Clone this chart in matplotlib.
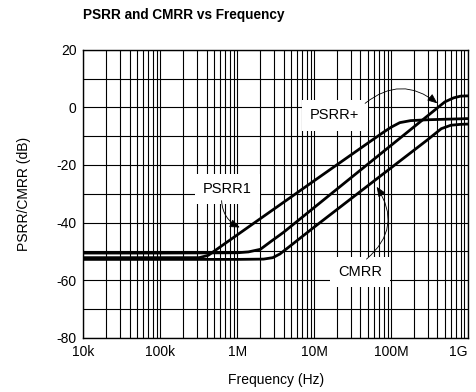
import matplotlib
matplotlib.use("Agg")
import matplotlib.pyplot as plt
from matplotlib.ticker import LogLocator, MultipleLocator, FixedLocator
import numpy as np

plt.rcParams['font.family'] = ['Liberation Sans', 'DejaVu Sans']
plt.rcParams['axes.unicode_minus'] = False

# PSRR1 curve (Hz, dB)
f_psrr1 = [1e4, 1e5, 3.2e5, 4.2e5, 1e6, 1e7, 5e7, 8e7, 1e8, 1.3e8, 1.8e8, 3e8, 1e9]
psrr1 = [-52.2, -52.2, -52.2, -51.4, -44.3, -25.5, -12.4, -8.6, -6.9, -5.3, -4.6, -4.3, -3.9]

# PSRR+ curve
f_psrrp = [1e4, 1e5, 1e6, 1.4e6, 2e6, 2.8e6, 4e6, 1e7, 1e8, 3e8, 5e8, 6.5e8, 8e8, 1e9]
psrrp = [-50.6, -50.6, -50.5, -50.2, -49.3, -46.4, -43.4, -34.8, -13.2, -2.9, 1.9, 3.3, 3.9, 4.0]

# CMRR curve
f_cmrr = [1e4, 1e5, 1e6, 2.2e6, 2.9e6, 3.6e6, 4.8e6, 1e7, 1e8, 3e8, 4.5e8, 6e8, 8e8, 1e9]
cmrr = [-52.8, -52.8, -52.8, -52.7, -52.2, -50.9, -48.3, -41.6, -21.0, -11.2, -7.4, -6.2, -5.9, -5.8]

x_ticks = [1e4, 1e5, 1e6, 1e7, 1e8, 1e9]
x_labels = ['10k', '100k', '1M', '10M', '100M', '1G']
y_ticks = [-80, -60, -40, -20, 0, 20]

fig = plt.figure(figsize=(4.77, 3.92), dpi=100)
ax = fig.add_axes([0.1747, 0.1385, 0.8064, 0.7345])

ax.set_xscale('log')
ax.set_xlim(1e4, 1e9)
ax.set_ylim(-80, 20)

ax.xaxis.set_major_locator(FixedLocator(x_ticks))
ax.set_xticklabels(x_labels)
ax.xaxis.set_minor_locator(LogLocator(base=10, subs=np.arange(2, 10)))
ax.xaxis.set_minor_formatter(plt.NullFormatter())
ax.yaxis.set_major_locator(FixedLocator(y_ticks))
ax.yaxis.set_minor_locator(MultipleLocator(10))

ax.grid(True, which='both', color='black', linewidth=0.8)
ax.tick_params(which='both', length=0, labelsize=10, pad=5)
for s in ax.spines.values():
    s.set_linewidth(1.0)
# keep the last frequency label inside the figure
ax.get_xticklabels()[-1].set_horizontalalignment('right')

lw = 2.0
ax.plot(f_psrr1, psrr1, color='black', linewidth=lw, solid_capstyle='butt')
ax.plot(f_psrrp, psrrp, color='black', linewidth=lw, solid_capstyle='butt')
ax.plot(f_cmrr, cmrr, color='black', linewidth=lw, solid_capstyle='butt')

box = dict(facecolor='white', edgecolor='none', pad=6)
arrow = dict(arrowstyle='-|>,head_length=0.6,head_width=0.25', color='black',
             linewidth=0.6, shrinkA=0, shrinkB=0)

# labels and their pointers
ax.text(1.86e7, -2.8, 'PSRR+', fontsize=10.5, ha='center', va='center', bbox=box, zorder=5)
ax.annotate('', xy=(4.0e8, 1.4), xytext=(4.6e7, 1.4),
            arrowprops=dict(arrow, connectionstyle='arc3,rad=-0.4'), zorder=6)

ax.text(7.5e5, -28.3, 'PSRR1', fontsize=10.5, ha='center', va='center', bbox=box, zorder=5)
ax.annotate('', xy=(1.08e6, -41.7), xytext=(6.27e5, -32.4),
            arrowprops=dict(arrow, connectionstyle='arc3,rad=0.3'), zorder=6)

ax.text(3.95e7, -57.2, 'CMRR', fontsize=10.5, ha='center', va='center', bbox=box, zorder=5)
ax.annotate('', xy=(6.5e7, -27.6), xytext=(4.8e7, -52.7),
            arrowprops=dict(arrow, connectionstyle='arc3,rad=0.44'), zorder=6)

ax.set_xlabel('Frequency (Hz)', fontsize=10, labelpad=10)
ax.set_ylabel('PSRR/CMRR (dB)', fontsize=10, labelpad=18)
fig.text(83 / 477, 1 - 15 / 392, 'PSRR and CMRR vs Frequency', fontsize=9.8,
         fontweight='bold', ha='left', va='center')

fig.savefig('out.png', dpi=100)
